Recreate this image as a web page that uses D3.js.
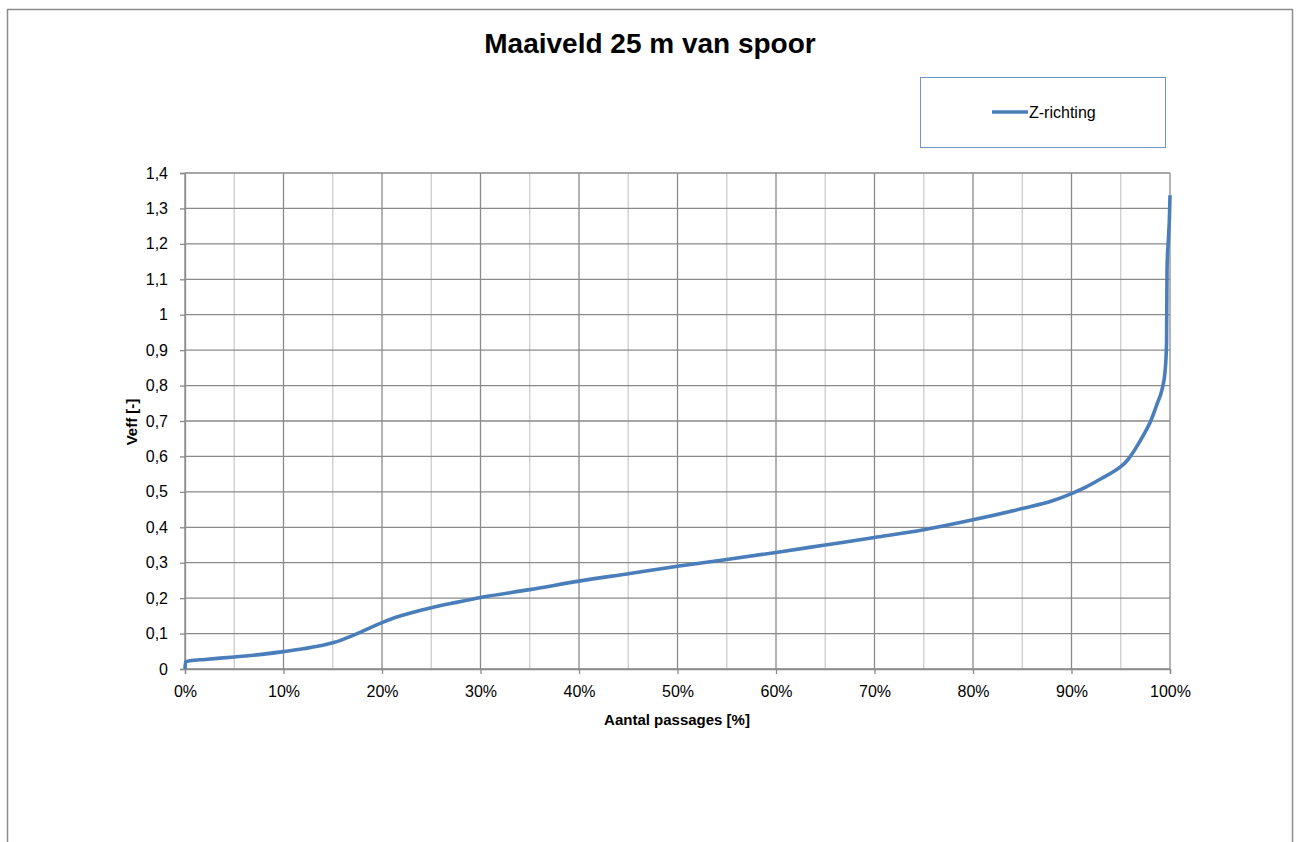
<!DOCTYPE html>
<html>
<head>
<meta charset="utf-8">
<script src="https://cdn.jsdelivr.net/npm/d3@7"></script>
<style>
  body { margin: 0; background: #fff; }
  text { font-family: "Liberation Sans", Arial, sans-serif; fill: #000; }
</style>
</head>
<body>
<script>
var width = 1298;
var height = 842;

// passages (%) and Veff values
var passages = [0, 0.05, 0.5, 2, 5, 8, 10, 12, 13, 14, 15, 16, 17, 18, 19, 20, 21, 22, 23, 25, 27, 30,
    35, 40, 45, 50, 55, 60, 65, 70, 75, 80, 85, 88, 90, 91.5, 93, 94.2, 95, 95.7, 96.5, 97.3, 98, 98.7,
    99.2, 99.5, 99.65, 99.7, 99.85, 99.95, 100];
var veff = [0, 0.02, 0.023, 0.027, 0.034, 0.042, 0.049, 0.057, 0.062, 0.067, 0.074, 0.083, 0.094, 0.106,
    0.119, 0.131, 0.142, 0.151, 0.159, 0.173, 0.185, 0.202, 0.224, 0.248, 0.269, 0.290, 0.309,
    0.329, 0.350, 0.371, 0.393, 0.421, 0.453, 0.474, 0.495, 0.514, 0.537, 0.556, 0.571, 0.590,
    0.622, 0.660, 0.697, 0.749, 0.79, 0.84, 0.92, 1.13, 1.22, 1.28, 1.337];
var xTicks = [0, 10, 20, 30, 40, 50, 60, 70, 80, 90, 100];
var xMinor = [5, 15, 25, 35, 45, 55, 65, 75, 85, 95];
var yTicks = [0, 0.1, 0.2, 0.3, 0.4, 0.5, 0.6, 0.7, 0.8, 0.9, 1, 1.1, 1.2, 1.3, 1.4];
var seriesName = "Z-richting";

var plot = { left: 185, right: 1170, top: 173, bottom: 669 };
var lineColor = "#4a7ebb";
var gridDark = "#8a8a8a";
var gridLight = "#cccccc";

var svg = d3.select("body").append("svg")
    .attr("width", width)
    .attr("height", height);

// outer chart border
svg.append("rect")
    .attr("x", 7.5).attr("y", 9.5)
    .attr("width", 1285).attr("height", 900)
    .attr("fill", "none")
    .attr("stroke", "#8c8c8c")
    .attr("stroke-width", 1.5);

var xScale = d3.scaleLinear().domain([0, 100]).range([plot.left, plot.right]);
var yScale = d3.scaleLinear().domain([0, 1.4]).range([plot.bottom, plot.top]);

var fmtY = v => d3.format(".1~f")(v).replace(".", ",");

// minor vertical gridlines
svg.append("g").selectAll("line")
    .data(xMinor)
    .enter().append("line")
    .attr("x1", d => xScale(d)).attr("x2", d => xScale(d))
    .attr("y1", plot.top).attr("y2", plot.bottom)
    .attr("stroke", gridLight).attr("stroke-width", 1.3);

// major vertical gridlines
svg.append("g").selectAll("line")
    .data(xTicks)
    .enter().append("line")
    .attr("x1", d => xScale(d)).attr("x2", d => xScale(d))
    .attr("y1", plot.top).attr("y2", plot.bottom)
    .attr("stroke", gridDark).attr("stroke-width", 1.3);

// horizontal gridlines
svg.append("g").selectAll("line")
    .data(yTicks)
    .enter().append("line")
    .attr("x1", plot.left).attr("x2", plot.right)
    .attr("y1", d => yScale(d)).attr("y2", d => yScale(d))
    .attr("stroke", gridDark).attr("stroke-width", 1.3);

// y axis
var yAxis = svg.append("g")
    .attr("transform", `translate(${plot.left},0)`)
    .call(d3.axisLeft(yScale).tickValues(yTicks).tickFormat(fmtY).tickSize(5).tickPadding(12));
yAxis.selectAll("path, line").attr("stroke", gridDark).attr("stroke-width", 1.3);
yAxis.selectAll("text").style("font-size", "16px").attr("fill", "#000");

// x axis
var xAxis = svg.append("g")
    .attr("transform", `translate(0,${plot.bottom})`)
    .call(d3.axisBottom(xScale).tickValues(xTicks).tickFormat(d => d + "%").tickSize(5).tickPadding(12));
xAxis.selectAll("path, line").attr("stroke", gridDark).attr("stroke-width", 1.3);
xAxis.selectAll("text").style("font-size", "16px").attr("fill", "#000");

// axis titles
svg.append("text")
    .attr("x", 677)
    .attr("y", 725)
    .attr("text-anchor", "middle")
    .style("font-size", "15px")
    .style("font-weight", "bold")
    .text("Aantal passages [%]");

svg.append("text")
    .attr("transform", "translate(137,422) rotate(-90)")
    .attr("text-anchor", "middle")
    .style("font-size", "15px")
    .style("font-weight", "bold")
    .text("Veff [-]");

// title
svg.append("text")
    .attr("x", 650)
    .attr("y", 53)
    .attr("text-anchor", "middle")
    .style("font-size", "28px")
    .style("font-weight", "bold")
    .text("Maaiveld 25 m van spoor");

// data line
var points = passages.map((p, i) => [p, veff[i]]);
var line = d3.line()
    .x(d => xScale(d[0]))
    .y(d => yScale(d[1]))
    .curve(d3.curveMonotoneX);

svg.append("path")
    .datum(points)
    .attr("d", line)
    .attr("fill", "none")
    .attr("stroke", lineColor)
    .attr("stroke-width", 3.6)
    .attr("stroke-linejoin", "round");

// legend
var legend = svg.append("g");
legend.append("rect")
    .attr("x", 920.5).attr("y", 77.5)
    .attr("width", 245).attr("height", 70)
    .attr("fill", "#fff")
    .attr("stroke", "#6d95c8")
    .attr("stroke-width", 1);
legend.append("line")
    .attr("x1", 992).attr("x2", 1028)
    .attr("y1", 112).attr("y2", 112)
    .attr("stroke", lineColor)
    .attr("stroke-width", 3.6);
legend.append("text")
    .attr("x", 1029)
    .attr("y", 118)
    .style("font-size", "16px")
    .text(seriesName);
</script>
</body>
</html>
